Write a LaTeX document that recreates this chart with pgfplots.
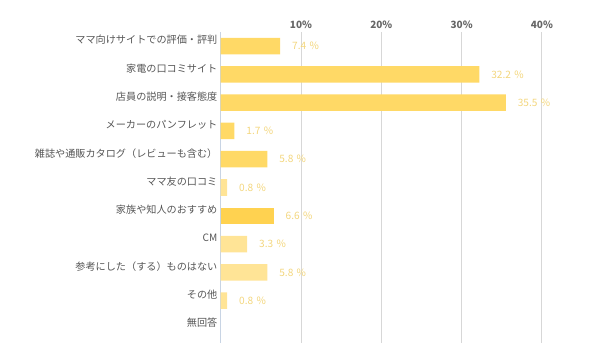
\documentclass[border=0pt]{standalone}
\usepackage{pgfplots}
\pgfplotsset{compat=1.18}
\usepackage{fontspec}
\setmainfont{Noto Sans CJK JP}
\definecolor{barmain}{RGB}{255,217,102}
\definecolor{bardark}{RGB}{255,210,80}
\definecolor{barlight}{RGB}{255,228,150}
\definecolor{vallab}{RGB}{243,214,125}
\definecolor{catgray}{RGB}{85,85,85}
\definecolor{gridgray}{RGB}{215,215,215}
\definecolor{axisblue}{RGB}{200,212,228}
\begin{document}
\begin{tikzpicture}[x=0.75pt,y=0.75pt]
\useasboundingbox (0,0) rectangle (600,357);
\begin{axis}[
  at={(220.7pt*0.75,14pt*0.75)}, anchor=south west,
  scale only axis,
  width=271pt, height=233.25pt,
  xmin=0, xmax=45,
  ymin=-0.5, ymax=10.5,
  y dir=reverse,
  xbar, bar width=12.4pt, bar shift=0pt,
  axis line style={draw=none},
  xtick={10,20,30,40},
  xticklabel pos=top,
  xticklabel={\pgfmathprintnumber{\tick}\%},
  xticklabel style={font=\fontsize{7.5}{9}\selectfont\bfseries, text=catgray!90, yshift=-1pt},
  /pgf/number format/assume math mode=true,
  xmajorgrids, grid style={gridgray, line width=0.7pt},
  extra x ticks={0}, extra x tick labels={},
  extra x tick style={grid style={axisblue, line width=0.8pt}},
  major tick length=0pt,
  ytick={0,...,10},
  yticklabels={ママ向けサイトでの評価・評判, 家電の口コミサイト, 店員の説明・接客態度, メーカーのパンフレット, 雑誌や通販カタログ（レビューも含む）, ママ友の口コミ, 家族や知人のおすすめ, CM, 参考にした（する）ものはない, その他, 無回答},
  yticklabel style={font=\fontsize{7.6}{9}\selectfont, text=catgray, yshift=4.5pt, xshift=1pt},
  nodes near coords={\pgfmathprintnumber[fixed,precision=1,fixed zerofill]{\pgfplotspointmeta}\hspace{2.5pt}\%},
  every node near coord/.append style={font=\fontsize{7.6}{9}\selectfont, text=vallab, anchor=west, xshift=5.5pt},
  clip=false,
]
\addplot[draw=none, fill=barmain] coordinates {(7.4,0) (32.2,1) (35.5,2) (1.7,3) (5.8,4)};
\addplot[draw=none, fill=bardark] coordinates {(6.6,6)};
\addplot[draw=none, fill=barlight] coordinates {(0.8,5) (3.3,7) (5.8,8) (0.8,9)};
\end{axis}
\end{tikzpicture}
\end{document}
